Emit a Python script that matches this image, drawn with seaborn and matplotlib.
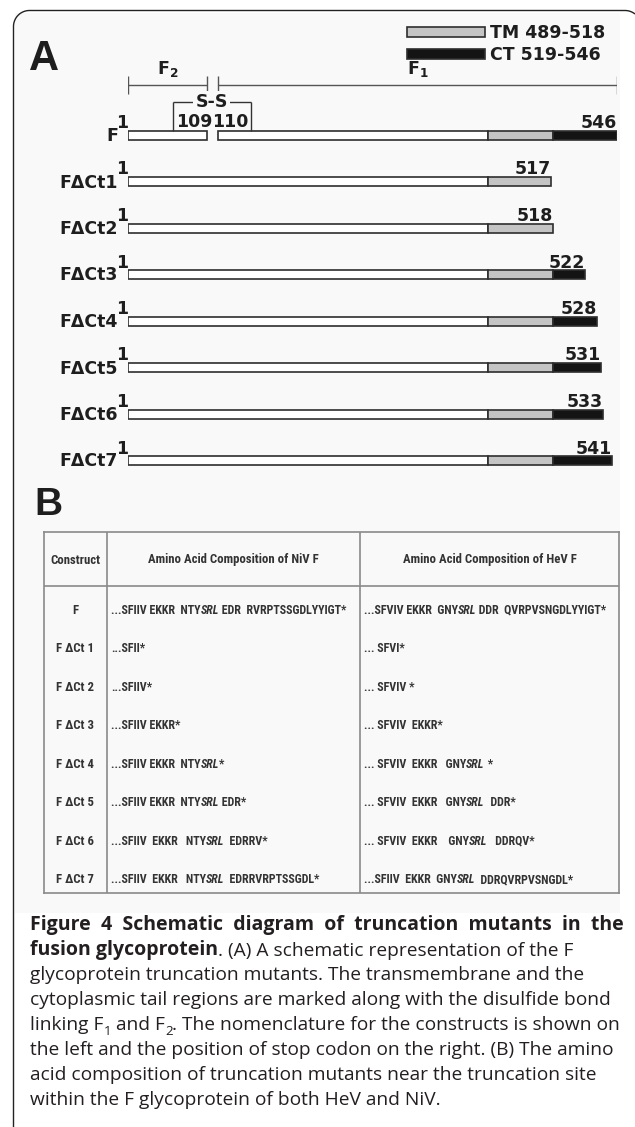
import numpy as np
import matplotlib
matplotlib.use("Agg")
import matplotlib.pyplot as plt
import matplotlib.patches as mpatches
from matplotlib import font_manager
from matplotlib.font_manager import FontProperties
import seaborn as sns

W, H = 635, 1127

# ---------------- panel A data ----------------
constructs = ["F", "FΔCt1", "FΔCt2", "FΔCt3", "FΔCt4", "FΔCt5", "FΔCt6", "FΔCt7"]
stop_codon = [546, 517, 518, 522, 528, 531, 533, 541]
tm_start, tm_end = 489, 518
ct_start, ct_end = 519, 546
f2_span = (1, 109)
f1_span = (110, 546)
ss_bracket = (62, 156)
legend_labels = ["TM 489-518", "CT 519-546"]

# the schematic is not drawn to scale: residue -> pixel knots of the drawing
scale_res = [1, 109, 110, 489, 518, 522, 528, 531, 533, 541, 546]
scale_px = [128, 207, 218, 488, 553, 585, 597, 601, 603, 612, 617]

# ---------------- panel B data ----------------
col_headers = ["Construct", "Amino Acid Composition of NiV F", "Amino Acid Composition of HeV F"]
table_rows = ["F", "F ΔCt 1", "F ΔCt 2", "F ΔCt 3", "F ΔCt 4", "F ΔCt 5", "F ΔCt 6", "F ΔCt 7"]
# text between underscores is set in italics
niv_seq = [
    "...SFIIV EKKR  NTY_SRL_ EDR  RVRPTSSGDLYYIGT*",
    "...SFII*",
    "...SFIIV*",
    "...SFIIV EKKR*",
    "...SFIIV EKKR  NTY_SRL_*",
    "...SFIIV EKKR  NTY_SRL_ EDR*",
    "...SFIIV  EKKR   NTY_SRL_  EDRRV*",
    "...SFIIV  EKKR   NTY_SRL_  EDRRVRPTSSGDL*",
]
hev_seq = [
    "...SFVIV EKKR  GNY_SRL_ DDR  QVRPVSNGDLYYIGT*",
    "... SFVI*",
    "... SFVIV *",
    "... SFVIV  EKKR*",
    "... SFVIV  EKKR   GNY_SRL_ *",
    "... SFVIV  EKKR   GNY_SRL_  DDR*",
    "... SFVIV  EKKR    GNY_SRL_   DDRQV*",
    "...SFIIV  EKKR  GNY_SRL_  DDRQVRPVSNGDL*",
]

caption_lines = [
    [("Figure  4  Schematic  diagram  of  truncation  mutants  in  the", "bold")],
    [("fusion glycoprotein", "bold"), (". (A) A schematic representation of the F", "normal")],
    [("glycoprotein truncation mutants. The transmembrane and the", "normal")],
    [("cytoplasmic tail regions are marked along with the disulfide bond", "normal")],
    [("linking F", "normal"), ("1", "sub"), (" and F", "normal"), ("2", "sub"),
     (". The nomenclature for the constructs is shown on", "normal")],
    [("the left and the position of stop codon on the right. (B) The amino", "normal")],
    [("acid composition of truncation mutants near the truncation site", "normal")],
    [("within the F glycoprotein of both HeV and NiV.", "normal")],
]

sns.set_theme(style="white")
plt.rcParams["font.family"] = ["DejaVu Sans"]
plt.rcParams["mathtext.default"] = "regular"

ink = "#1e1e1e"
edge = "#2e2e2e"
tm_gray = "#c4c4c4"
ct_black = "#141414"


def narrow_bold():
    """Pick a narrow bold sans for the table, falling back to Liberation Sans."""
    fonts = font_manager.fontManager.ttflist
    names = {f.name for f in fonts}
    for nm in ["Liberation Sans Narrow", "Arial Narrow", "DejaVu Sans Condensed",
               "Noto Sans Condensed", "Roboto Condensed", "Open Sans Condensed"]:
        if nm in names:
            return FontProperties(family=nm, weight="bold")
    for nm in ["Noto Sans", "Open Sans", "Roboto", "DejaVu Sans", "Inter"]:
        if any(f.name == nm and f.stretch != "normal" and f.weight in (600, 700, "bold")
               for f in fonts):
            return FontProperties(family=nm, weight="bold", stretch="condensed")
    return FontProperties(family="Liberation Sans", weight="bold")


def warp(x):
    x = np.asarray(x, dtype=float)
    y = np.interp(x, scale_res, scale_px)
    lo_slope = (scale_px[1] - scale_px[0]) / (scale_res[1] - scale_res[0])
    hi_slope = (scale_px[-1] - scale_px[-2]) / (scale_res[-1] - scale_res[-2])
    y = np.where(x < scale_res[0], scale_px[0] + (x - scale_res[0]) * lo_slope, y)
    y = np.where(x > scale_res[-1], scale_px[-1] + (x - scale_res[-1]) * hi_slope, y)
    return y


def unwarp(p):
    p = np.asarray(p, dtype=float)
    x = np.interp(p, scale_px, scale_res)
    lo_slope = (scale_res[1] - scale_res[0]) / (scale_px[1] - scale_px[0])
    hi_slope = (scale_res[-1] - scale_res[-2]) / (scale_px[-1] - scale_px[-2])
    x = np.where(p < scale_px[0], scale_res[0] + (p - scale_px[0]) * lo_slope, x)
    x = np.where(p > scale_px[-1], scale_res[-1] + (p - scale_px[-1]) * hi_slope, x)
    return x


def chain_text(ax, x, y, parts, va="baseline", **common):
    """Run of text pieces set one after the other; each piece may carry a pixel drop 'dy'."""
    txt, kw = parts[0]
    kw = dict(kw)
    prev_dy = kw.pop("dy", 0)
    t = ax.text(x, y, txt, ha="left", va=va, **kw, **common)
    for txt, kw in parts[1:]:
        kw = dict(kw)
        dy = kw.pop("dy", 0)
        t = ax.annotate(txt, xy=(1, 0), xycoords=t, xytext=(0, dy - prev_dy),
                        textcoords="offset pixels", ha="left", va="bottom", **kw, **common)
        prev_dy = dy
    return t


fig = plt.figure(figsize=(W / 100, H / 100), dpi=100)
renderer = fig.canvas.get_renderer()

# background layer in pixel units: frame, panel letters, caption
bg = fig.add_axes([0, 0, 1, 1])
bg.set_xlim(0, W)
bg.set_ylim(H, 0)
bg.axis("off")
bg.add_patch(mpatches.Rectangle((14.5, 13), 605, 900, fc="#f9f9f9", ec="none"))

# open frame: left side, rounded top-left corner, top side, start of top-right corner
r = 16
a1 = np.linspace(np.pi, 1.5 * np.pi, 24)
a2 = np.linspace(1.5 * np.pi, 2 * np.pi - np.arccos(10 / r), 12)
fx = np.concatenate([[13.5], 13.5 + r + r * np.cos(a1), 625 + r * np.cos(a2)])
fy = np.concatenate([[H], 10.5 + r + r * np.sin(a1), 10.5 + r + r * np.sin(a2)])
bg.plot(fx, fy, color="#222222", lw=1.0, solid_capstyle="butt")

bg.text(29, 70, "A", fontsize=30, fontweight="bold", family="Liberation Sans", color=ink)
bg.text(34, 515, "B", fontsize=28, fontweight="bold", family="Liberation Sans", color=ink)

cap_size = 13.75
cap_style = {"bold": dict(fontweight="bold", fontsize=14.0),
             "normal": dict(fontweight="normal", fontsize=cap_size),
             "sub": dict(fontweight="normal", fontsize=cap_size * 0.7, dy=-4)}
for i, line in enumerate(caption_lines):
    parts = [(txt, cap_style[st]) for txt, st in line]
    chain_text(bg, 30, 930 + 25 * i, parts, family="Open Sans", color="#231f20")

# ---------------- panel A ----------------
row_px = 46.5
ax = fig.add_axes([128 / W, 1 - 480 / H, 489 / W, 480 / H])
ax.set_xscale("function", functions=(warp, unwarp))
ax.set_xlim(scale_res[0], scale_res[-1])
ax.set_ylim((480 - 135) / row_px, -135 / row_px)
ax.axis("off")

bar_h = 9 / row_px
lab_kw = dict(fontsize=12.5, fontweight="bold", color=ink, textcoords="offset pixels",
              annotation_clip=False)

for i, (name, stop) in enumerate(zip(constructs, stop_codon)):
    if i == 0:
        white = [(f2_span[0], f2_span[1]), (f1_span[0], tm_start)]
    else:
        white = [(1, tm_start)]
    for a, b in white:
        ax.barh(i, b - a, left=a, height=bar_h, color="white", edgecolor=edge, linewidth=1.2)
    ax.barh(i, min(stop, tm_end) - tm_start, left=tm_start, height=bar_h,
            color=tm_gray, edgecolor=edge, linewidth=1.2)
    if stop > tm_end:
        ax.barh(i, stop - tm_end, left=tm_end, height=bar_h,
                color=ct_black, edgecolor=edge, linewidth=1.2)
    ax.annotate(name, xy=(1, i), xytext=(-10, -6), ha="right", va="baseline", **lab_kw)
    ax.annotate("1", xy=(1, i), xytext=(0, 7), ha="right", va="baseline", **lab_kw)
    ax.annotate(str(stop), xy=(stop, i), xytext=(0, 7), ha="right", va="baseline", **lab_kw)

# F2 / F1 brackets
br_y = (85 - 135) / row_px
tick = 9 / row_px
for lab, (a, b) in zip(["F$_2$", "F$_1$"], [f2_span, f1_span]):
    ax.hlines(br_y, a, b, color="#555555", lw=1.0)
    ax.vlines([a, b], br_y - tick, br_y + tick, color="#555555", lw=1.0)
    mid = float(unwarp((warp(a) + warp(b)) / 2))
    ax.annotate(lab, xy=(mid, br_y), xytext=(0, 11), ha="center", va="baseline", **lab_kw)

# disulfide bond bracket between F2 and F1
ss_y = (102 - 135) / row_px
ax.vlines(list(ss_bracket), ss_y, -bar_h / 2, color="#333333", lw=1.0)
ax.hlines(ss_y, ss_bracket[0], ss_bracket[1], color="#333333", lw=1.0)
ss_mid = float(unwarp((warp(ss_bracket[0]) + warp(ss_bracket[1])) / 2))
ax.annotate("S-S", xy=(ss_mid, ss_y), xytext=(0, 0), ha="center", va="center",
            bbox=dict(fc="#f9f9f9", ec="none", pad=1.5), **lab_kw)
gap_mid = (f2_span[1] + f1_span[0]) / 2
ax.annotate(str(f2_span[1]), xy=(gap_mid, 0), xytext=(0, 8), ha="right", va="baseline", **lab_kw)
ax.annotate(str(f1_span[0]), xy=(gap_mid, 0), xytext=(0, 8), ha="left", va="baseline", **lab_kw)

# legend for the TM / CT regions
handles = [mpatches.Patch(fc=tm_gray, ec=edge, lw=1.2), mpatches.Patch(fc=ct_black, ec=edge, lw=1.2)]
leg = ax.legend(handles, legend_labels, loc="upper left", bbox_to_anchor=(407, 24),
                bbox_transform=bg.transData, frameon=False, borderpad=0, borderaxespad=0,
                handlelength=4.5, handleheight=0.52, handletextpad=0.3, labelspacing=0.25,
                prop=dict(size=12.5, weight="bold"))
for t in leg.get_texts():
    t.set_color(ink)

# ---------------- panel B: table ----------------
top, head_line, bottom, first_row, row_step = 532, 586, 893, 610, 38.57
tb = fig.add_axes([43.5 / W, 1 - bottom / H, (619 - 43.5) / W, (bottom - top) / H])
tb.set_xlim(0, 1)
tb.set_ylim((bottom - first_row) / row_step, (top - first_row) / row_step)
tb.set_xticks([])
tb.set_yticks([])
tb.patch.set_alpha(0)
for sp in tb.spines.values():
    sp.set_visible(True)
    sp.set_color("#8a8a8a")
    sp.set_linewidth(1.2)
col_edges = [0, 0.110, 0.550, 1]
for xe in col_edges[1:-1]:
    tb.axvline(xe, color="#8a8a8a", lw=1.2)
tb.axhline((head_line - first_row) / row_step, color="#8a8a8a", lw=1.2)

# size the narrow font so the longest NiV entry spans its width in the figure
fp = narrow_bold()
fp.set_size(10)
probe = tb.text(0, 0, niv_seq[0].replace("_", ""), fontproperties=fp)
tab_size = min(10.0, 10 * 238 / probe.get_window_extent(renderer).width)
probe.remove()
fp.set_size(tab_size)
fp_it = fp.copy()
fp_it.set_style("italic")
fp_head = fp.copy()
fp_head.set_size(tab_size * 1.06)

tab_ink = "#333333"
head_y = (560 - first_row) / row_step
for k, head in enumerate(col_headers):
    tb.text((col_edges[k] + col_edges[k + 1]) / 2, head_y, head, ha="center", va="center",
            color=tab_ink, fontproperties=fp_head)

pad = 4 / (619 - 43.5)
for r_i, (name, niv, hev) in enumerate(zip(table_rows, niv_seq, hev_seq)):
    tb.text((col_edges[0] + col_edges[1]) / 2, r_i, name, ha="center", va="center",
            color=tab_ink, fontproperties=fp_head)
    for xe, seq in [(col_edges[1], niv), (col_edges[2], hev)]:
        pieces = seq.split("_")
        parts = [(p, dict(fontproperties=fp_it if j % 2 else fp)) for j, p in enumerate(pieces) if p]
        chain_text(tb, xe + pad, r_i, parts, va="center", color=tab_ink)

fig.savefig("out.png", dpi=100)
